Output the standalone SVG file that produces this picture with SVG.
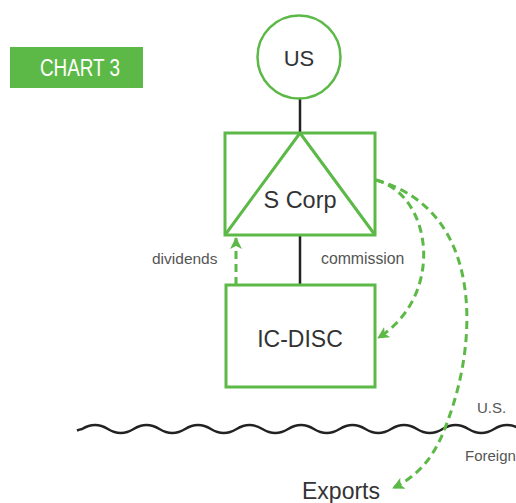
<svg xmlns="http://www.w3.org/2000/svg" width="516" height="503" viewBox="0 0 516 503">
<defs>
<marker id="ah" viewBox="0 0 12 12" refX="11" refY="6" markerWidth="12" markerHeight="12" markerUnits="userSpaceOnUse" orient="auto">
<path d="M0,0 L12,6 L0,12 L3,6 Z" fill="#5DB947"/>
</marker>
</defs>
<style>
.g{fill:none;stroke:#5DB947;stroke-width:3}
.k{fill:none;stroke:#222;stroke-width:2.5}
.d{fill:none;stroke:#5DB947;stroke-width:3;stroke-dasharray:8 5;marker-end:url(#ah)}
.t{font-family:"Liberation Sans",Arial,sans-serif;fill:#333}
.s{fill:#555}
</style>
<rect width="516" height="503" fill="#fff"/>
<g id="title">
<rect x="10" y="47" width="133" height="41" fill="#5DB947"/>
<text x="40" y="76" class="t" style="fill:#fff" font-size="23" textLength="80" lengthAdjust="spacingAndGlyphs">CHART 3</text>
</g>
<g id="connectors">
<line x1="300" y1="99" x2="300" y2="133" class="k"/>
<line x1="300" y1="235" x2="300" y2="285" class="k"/>
<path d="M77,430.5 Q79.5,429.5 82.1,429 Q95,421 107.9,429 T133.65,429 T159.4,429 T185.15,429 T210.9,429 T236.65,429 T262.4,429 T288.15,429 T313.9,429 T339.65,429 T365.4,429 T391.15,429 T416.9,429 T442.65,429 T468.4,429 T494.15,429 T519.9,429" class="k"/>
<path d="M236,285 L236,238" class="d"/>
<path d="M376,180 C432,195 446,295 378,338" class="d"/>
<path d="M376,180 C484,210 478,340 448,420 C436,455 420,475 393,488" class="d"/>
</g>
<g id="us">
<circle cx="299" cy="57" r="41.5" fill="none" stroke="#5DB947" stroke-width="2.5"/>
<text x="299" y="66" class="t" font-size="22" text-anchor="middle">US</text>
</g>
<g id="scorp">
<rect x="225" y="133" width="150" height="102" class="g"/>
<path d="M300,133 L225,235 M300,133 L375,235" class="g"/>
<text x="300" y="208" class="t" font-size="23.5" text-anchor="middle">S Corp</text>
</g>
<g id="icdisc">
<rect x="226" y="285" width="149" height="102" class="g"/>
<text x="300" y="347" class="t" font-size="23" text-anchor="middle">IC-DISC</text>
</g>
<g id="labels">
<text x="152" y="264" class="t s" font-size="15.5">dividends</text>
<text x="321" y="264" class="t s" font-size="15.8">commission</text>
<text x="477" y="413" class="t s" font-size="15">U.S.</text>
<text x="465" y="461" class="t s" font-size="15">Foreign</text>
<text x="302" y="499" class="t" font-size="23">Exports</text>
</g>
</svg>
